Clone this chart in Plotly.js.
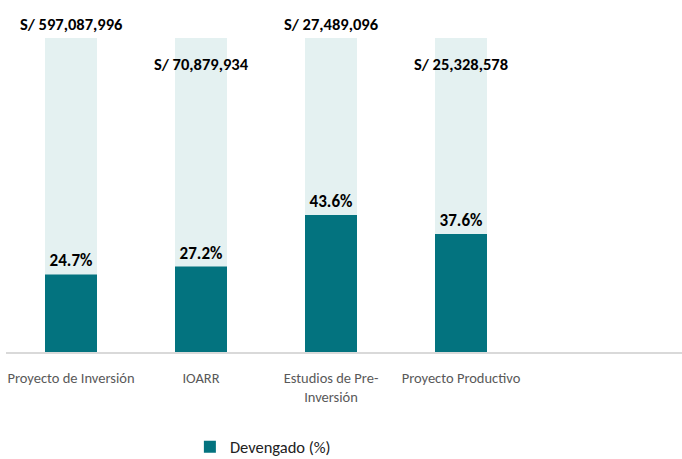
<!DOCTYPE html>
<html>
<head>
<meta charset="utf-8">
<script src="https://cdn.plot.ly/plotly-3.0.1.min.js"></script>
<style>
  html, body { margin: 0; padding: 0; background: #fff; }
  #chart { width: 682px; height: 459px; }
</style>
</head>
<body>
<div id="chart"></div>
<script>
// Devengado (%) por tipo de inversión, con el monto total encima de cada barra
const categories = ['Proyecto de Inversión', 'IOARR', 'Estudios de Pre-<br>Inversión', 'Proyecto Productivo'];
const devengado = [24.7, 27.2, 43.6, 37.6];
const total = [100, 100, 100, 100];
const montos = ['S/ 597,087,996', 'S/ 70,879,934', 'S/ 27,489,096', 'S/ 25,328,578'];

const TEAL = '#03737f';
const LIGHT = '#e4f1f1';
const FONT = 'Carlito, Lato, "Open Sans", sans-serif';

const xIdx = categories.map((_, i) => i);

const traces = [
    {
        type: 'bar', x: xIdx, y: total,
        width: 0.4,
        marker: { color: LIGHT },
        showlegend: false, hoverinfo: 'skip',
    },
    {
        type: 'bar', x: xIdx, y: devengado,
        width: 0.4,
        name: 'Devengado (%)',
        marker: { color: TEAL },
        text: devengado.map(v => v.toFixed(1) + '%'),
        textposition: 'outside',
        textfont: { family: FONT, size: 17, color: '#000', weight: 'bold' },
        cliponaxis: false,
        hoverinfo: 'skip',
    },
];

// montos escalonados: alto / bajo alternando (en coordenadas de papel, sobre el 100%)
const annotations = montos.map((m, i) => ({
    x: i, y: i % 2 ? 0.917 : 1.043,
    xref: 'x', yref: 'paper',
    text: '<b>' + m + '</b>',
    showarrow: false,
    xanchor: 'center', yanchor: 'middle',
    font: { family: FONT, size: 16.5, color: '#000' },
}));

const layout = {
    width: 682, height: 459,
    paper_bgcolor: '#fff', plot_bgcolor: '#fff',
    margin: { l: 6, r: 0, t: 38, b: 107, autoexpand: false },
    barmode: 'overlay',
    font: { family: FONT },
    xaxis: {
        range: [-0.5, 4.7],
        tickvals: xIdx, ticktext: categories,
        showline: true, linecolor: '#d9d9d9', linewidth: 2,
        showgrid: false, zeroline: false, ticks: '',
        ticklabelstandoff: 12,
        tickfont: { family: FONT, size: 14.5, color: '#595959' },
        automargin: false,
        fixedrange: true,
    },
    yaxis: {
        range: [0, 100], visible: false, fixedrange: true,
    },
    annotations,
    showlegend: true,
    legend: {
        orientation: 'h',
        x: 0.38, xanchor: 'center',
        y: -0.303, yanchor: 'middle',
        font: { family: FONT, size: 16.5, color: '#222' },
        itemwidth: 30,
    },
};

Plotly.newPlot('chart', traces, layout, { displayModeBar: false, staticPlot: true });
</script>
</body>
</html>
